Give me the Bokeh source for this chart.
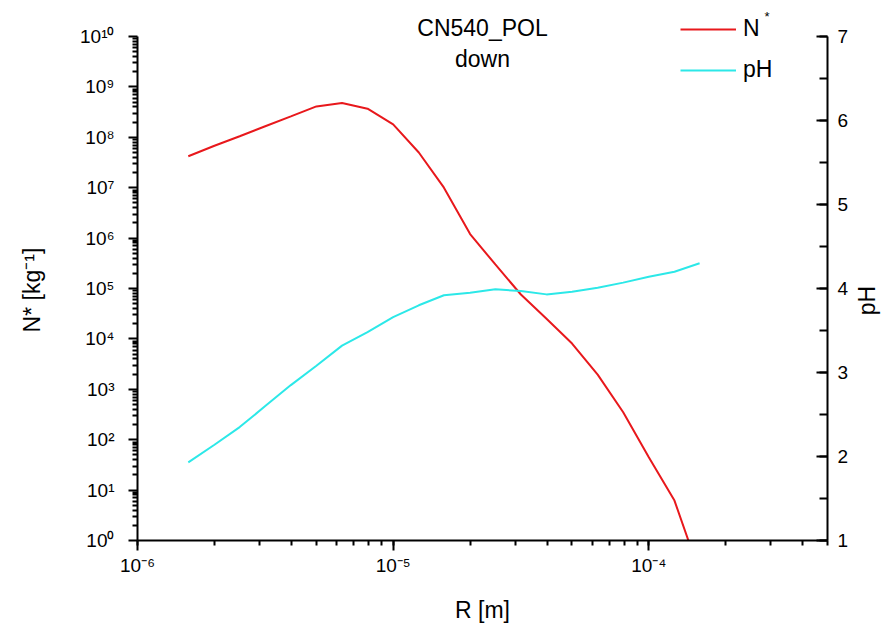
import math
import json
from bokeh.plotting import figure
from bokeh.models import (Range1d, LinearAxis, LinearScale, LogTicker, SingleIntervalTicker,
                          CustomJSTicker, CustomJSTickFormatter, Label, Legend, LegendItem)
from bokeh.embed import file_html
from bokeh.resources import INLINE

# ---------------- data ----------------
radius_m = [1.58e-6, 2.0e-6, 2.51e-6, 3.16e-6, 3.98e-6, 5.01e-6, 6.31e-6, 7.94e-6,
            1.0e-5, 1.26e-5, 1.58e-5, 2.0e-5, 2.51e-5, 3.16e-5, 3.98e-5, 5.01e-5,
            6.31e-5, 7.94e-5, 1.0e-4, 1.26e-4, 1.58e-4]
n_star = [4.2e7, 6.8e7, 1.05e8, 1.66e8, 2.6e8, 4.1e8, 4.8e8, 3.7e8,
          1.8e8, 5.0e7, 1.0e7, 1.2e6, 3.0e5, 7.6e4, 2.5e4, 8.1e3,
          1.95e3, 3.5e2, 45.0, 6.2, 0.23]
ph = [1.93, 2.14, 2.35, 2.60, 2.85, 3.08, 3.32, 3.48,
      3.66, 3.80, 3.92, 3.95, 3.99, 3.97, 3.93, 3.96,
      4.01, 4.07, 4.14, 4.20, 4.30]

x_limits = [1e-6, 5e-4]
y_limits = [1.0, 1e10]
ph_limits = [1, 7]
y_exponents = [0, 1, 2, 3, 4, 5, 6, 7, 8, 9, 10]

title_lines = ["CN540_POL", "down"]
legend_labels = ["N", "pH"]
x_label = "R [m]"
y_label = "N* [kg\u207b\u00b9]"
y2_label = "pH"

RED = "#e8181c"
CYAN = "#2ce8e8"
FONT = "Liberation Sans"

# ---------------- figure ----------------
W, H = 884, 626
FRAME_L, FRAME_R, FRAME_B = 137, 827, 540
TOP_AXIS_Y = 36                       # pixel row of 1e10 / pH 7
px_per_decade = (FRAME_B - TOP_AXIS_Y) / 10.0
px_per_ph = (FRAME_B - TOP_AXIS_Y) / 6.0
y_top = 10 ** (10 + TOP_AXIS_Y / px_per_decade)
ph_top = 7 + TOP_AXIS_Y / px_per_ph

p = figure(width=W, height=H, output_backend="svg", toolbar_location=None,
           x_axis_type="log", y_axis_type="log",
           x_range=Range1d(*x_limits), y_range=Range1d(y_limits[0], y_top),
           min_border_left=FRAME_L, min_border_right=W - FRAME_R, min_border_top=0,
           min_border_bottom=H - FRAME_B)
p.outline_line_color = None
p.xgrid.visible = False
p.ygrid.visible = False
p.extra_y_ranges = {"ph": Range1d(ph_limits[0], ph_top)}
p.extra_y_scales = {"ph": LinearScale()}

sup_fmt = CustomJSTickFormatter(code="""
const sup = {'0':'\u2070','1':'\u00b9','2':'\u00b2','3':'\u00b3','4':'\u2074','5':'\u2075',
             '6':'\u2076','7':'\u2077','8':'\u2078','9':'\u2079','-':'\u207b'};
const e = Math.round(Math.log10(tick));
return '10' + String(e).split('').map(c => sup[c]).join('');
""")

y_major = [10.0 ** e for e in y_exponents]
y_minor = [k * 10.0 ** e for e in y_exponents[:-1] for k in range(2, 10)]

xa = p.xaxis[0]
xa.ticker = LogTicker(desired_num_ticks=4, num_minor_ticks=10)
xa.formatter = sup_fmt
ya = p.yaxis[0]
ya.ticker = CustomJSTicker(major_code="return %s;" % json.dumps(y_major),
                           minor_code="return %s;" % json.dumps(y_minor))
ya.formatter = sup_fmt
ya.bounds = tuple(y_limits)

ra = LinearAxis(y_range_name="ph", ticker=SingleIntervalTicker(interval=1, num_minor_ticks=2))
ra.bounds = tuple(ph_limits)
p.add_layout(ra, "right")

for ax in (xa, ya, ra):
    ax.axis_line_width = 2
    ax.axis_line_color = "black"
    ax.major_tick_line_width = 2
    ax.minor_tick_line_width = 2
    ax.minor_tick_line_color = "black"
    ax.major_label_text_font = FONT
    ax.major_label_text_font_size = "19px"
    ax.major_label_text_color = "black"
    ax.axis_label_text_font = FONT
    ax.axis_label_text_font_size = "23px"
    ax.axis_label_text_font_style = "normal"
    ax.axis_label_text_color = "black"

xa.major_tick_in = 0
xa.minor_tick_in = 0
xa.major_tick_out = 10
xa.minor_tick_out = 5
xa.major_label_standoff = 4
xa.axis_label = x_label
xa.axis_label_standoff = 18

ya.major_tick_in = 0
ya.minor_tick_in = 0
ya.major_tick_out = 9
ya.minor_tick_out = 5
ya.major_label_standoff = 14
# trailing spaces shift the centred label down to the middle of the drawn axis
ya.axis_label = y_label + "\u2002\u2002\u2002\u2009"
ya.axis_label_standoff = 32

ra.major_tick_in = 11
ra.major_tick_out = 0
ra.minor_tick_in = 8
ra.minor_tick_out = 0
ra.major_label_standoff = 10

# ---------------- lines ----------------
r1 = p.line(radius_m, n_star, line_color=RED, line_width=2)
r2 = p.line(radius_m, ph, line_color=CYAN, line_width=2, y_range_name="ph")

legend = Legend(items=[LegendItem(label=legend_labels[0], renderers=[r1]),
                       LegendItem(label=legend_labels[1], renderers=[r2])],
                location=(543, 457), glyph_width=56, glyph_height=20,
                label_height=20, spacing=14, label_standoff=7, padding=0, margin=0,
                border_line_color=None, background_fill_alpha=0,
                label_text_font_size="23px", label_text_font=FONT,
                label_text_color="black")
p.add_layout(legend, "center")


def lab(text, x, y, size, align="left", base="alphabetic", angle=0.0, where="center"):
    p.add_layout(Label(x=x, y=y, x_units="screen", y_units="screen", text=text,
                       text_font=FONT, text_font_size=size, text_color="black",
                       text_align=align, text_baseline=base, angle=angle), where)


# legend superscript on N
lab("*", 627, 524, "13px")

# title (inside the frame, above the axes' top)
lab(title_lines[0], 345, 513, "23px", align="center")
lab(title_lines[1], 345, 482, "23px", align="center")

# right axis title, reading bottom to top
lab(y2_label, 28, 240, "23px", align="center", base="bottom", angle=math.pi / 2, where="right")

html = file_html(p, INLINE)
open("out.html", "w").write(html)
